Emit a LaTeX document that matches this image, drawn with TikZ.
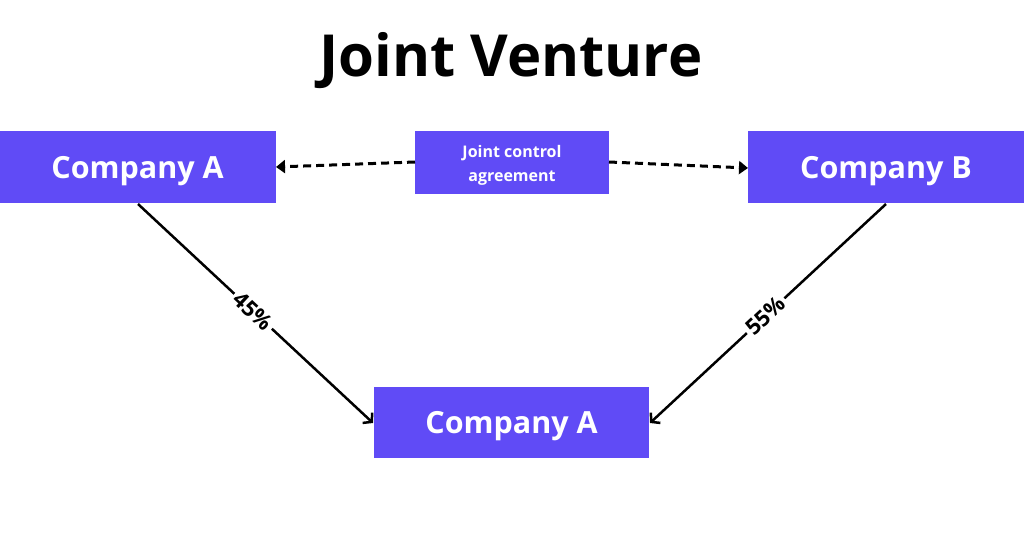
\documentclass[tikz,border=0pt]{standalone}
\usepackage{fontspec}
\setmainfont{Open Sans}
\usetikzlibrary{arrows.meta}
\definecolor{boxc}{HTML}{604BF6}
\tikzset{
  box/.style={fill=boxc, draw=none, text=white, font=\bfseries\fontsize{30.5}{34}\selectfont, inner sep=0pt, text depth=0pt},
  smallbox/.style={fill=boxc, draw=none, inner sep=0pt},
  smalltext/.style={text=white, font=\bfseries\fontsize{16}{24}\selectfont, align=center, inner sep=0pt},
  dasharrow/.style={draw=black, line width=3pt, dash pattern=on 8pt off 5pt, -{Triangle[length=9pt,width=13pt]}},
  solidarrow/.style={draw=black, line width=2.5pt, -{Straight Barb[length=6pt,width=14pt,line width=2.5pt]}},
  pct/.style={fill=white, font=\bfseries\fontsize{22}{26}\selectfont, inner sep=3pt, sloped}
}
\begin{document}
\begin{tikzpicture}[x=1pt,y=-1pt]
\useasboundingbox (0,0) rectangle (1024,538);
\node[font=\bfseries\fontsize{58}{62}\selectfont, text depth=0pt] (title) at (511,54) {Joint Venture};
\node[box, minimum width=276pt, minimum height=72pt] (ca) at (137.5,167) {Company A};
\node[box, minimum width=276pt, minimum height=72pt] (cb) at (886,167) {Company B};
\node[smallbox, minimum width=194pt, minimum height=63pt] (jca) at (512,162.5) {};
\node[smalltext] (jcat) at (512,165.5) {Joint control\\agreement};
\node[box, minimum width=275pt, minimum height=71pt] (cc) at (511.5,422.5) {Company A};
\coordinate (ja) at (415,162);
\coordinate (jb) at (609,162);
\coordinate (caR) at (276,167);
\coordinate (cbL) at (748,168);
\draw[dasharrow] (ja) -- (caR);
\draw[dasharrow] (jb) -- (cbL);
\coordinate (caB) at (138,204);
\coordinate (cbB) at (886,204);
\coordinate (ccL) at (373,423);
\coordinate (ccR) at (650,423);
\draw[solidarrow] (caB) -- node[pct, pos=0.49] {45\%} (ccL);
\draw[solidarrow] (cbB) -- node[pct, pos=0.51] {55\%} (ccR);
\end{tikzpicture}
\end{document}
